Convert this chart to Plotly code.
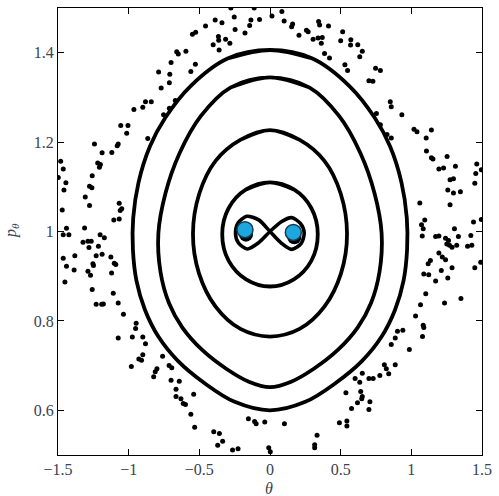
import plotly.graph_objects as go

# ---------------- data (theta, p_theta) ----------------
# closed invariant curves (each list wraps past its start so the spline closes smoothly)
orbit_1 = [(-0.30,1.387),(0.00,1.406),(0.30,1.387),(0.56,1.326),(0.74,1.255),(0.85,1.190),(0.93,1.110),
           (0.968,1.030),(0.970,0.960),(0.945,0.890),(0.885,0.825),(0.79,0.765),(0.65,0.710),(0.46,0.660),
           (0.25,0.619),(0.00,0.600),(-0.25,0.619),(-0.46,0.660),(-0.65,0.710),(-0.79,0.765),(-0.885,0.825),
           (-0.945,0.890),(-0.970,0.960),(-0.968,1.030),(-0.93,1.110),(-0.85,1.190),(-0.74,1.255),
           (-0.56,1.326),(-0.30,1.387),(0.00,1.406),(0.30,1.387)]
orbit_2 = [(-0.28,1.322),(0.00,1.345),(0.28,1.322),(0.49,1.258),(0.64,1.175),(0.74,1.085),(0.79,0.995),
           (0.775,0.910),(0.715,0.840),(0.62,0.785),(0.48,0.735),(0.31,0.693),(0.15,0.664),(0.00,0.652),
           (-0.15,0.664),(-0.31,0.693),(-0.48,0.735),(-0.62,0.785),(-0.715,0.840),(-0.775,0.910),
           (-0.79,0.995),(-0.74,1.085),(-0.64,1.175),(-0.49,1.258),(-0.28,1.322),(0.00,1.345),(0.28,1.322)]
orbit_3 = [(-0.21,1.205),(0.00,1.227),(0.21,1.205),(0.385,1.158),(0.50,1.085),(0.545,0.995),(0.503,0.907),
           (0.385,0.832),(0.209,0.782),(0.00,0.765),(-0.209,0.782),(-0.385,0.832),(-0.503,0.907),
           (-0.545,0.995),(-0.50,1.085),(-0.385,1.158),(-0.21,1.205),(0.00,1.227),(0.21,1.205)]
orbit_4 = [(-0.169,1.094),(0.00,1.110),(0.169,1.094),(0.293,1.052),(0.338,0.994),(0.293,0.935),
           (0.169,0.893),(0.00,0.877),(-0.169,0.893),(-0.293,0.935),(-0.338,0.994),(-0.293,1.052),
           (-0.169,1.094),(0.00,1.110),(0.169,1.094)]
separatrix = [(0.00,1.000),(0.08,1.022),(0.153,1.031),(0.215,1.018),(0.242,0.997),(0.220,0.973),
              (0.153,0.960),(0.08,0.974),(0.00,1.000),(-0.08,1.026),(-0.165,1.034),(-0.224,1.020),
              (-0.244,0.998),(-0.224,0.975),(-0.16,0.961),(-0.08,0.975),(0.00,1.000)]

fixed_theta = [-0.177, 0.165]
fixed_p = [1.004, 0.998]
shadow_theta = [-0.170, 0.172]
shadow_p = [0.993, 0.987]

chaos_top_left = [(-0.277,1.500),(-0.112,1.500),(-0.253,1.480),(-0.388,1.473),(-0.340,1.467),(-0.456,1.460),
    (-0.135,1.473),(-0.074,1.474),(-0.247,1.452),(-0.177,1.444),(-0.144,1.461),(-0.526,1.446),(-0.549,1.441),
    (-0.365,1.436),(-0.363,1.428),(-0.314,1.430),(-0.402,1.418),(-0.284,1.421),(-0.360,1.406),(-0.660,1.402),
    (-0.649,1.397),(-0.595,1.403),(-0.700,1.378),(-0.528,1.374),(-0.788,1.357),(-0.709,1.352),(-0.560,1.358),
    (-0.712,1.333),(-0.770,1.321),(-0.881,1.290),(-0.840,1.290),(-0.900,1.278),(-0.963,1.273),(-0.670,1.293),
    (-0.712,1.276),(-0.753,1.261),(-1.056,1.237),(-1.005,1.237),(-1.014,1.220),(-0.865,1.208)]
chaos_top_right = [(0.014,1.482),(0.084,1.492),(0.100,1.471),(0.160,1.464),(0.153,1.458),(0.205,1.439),
    (0.258,1.450),(0.270,1.447),(0.344,1.470),(0.351,1.462),(0.414,1.460),(0.305,1.430),(0.340,1.433),
    (0.370,1.434),(0.363,1.421),(0.386,1.398),(0.421,1.388),(0.514,1.447),(0.500,1.427),(0.572,1.429),
    (0.570,1.417),(0.621,1.418),(0.653,1.403),(0.635,1.391),(0.530,1.373),(0.549,1.360),(0.747,1.365),
    (0.781,1.360),(0.700,1.337),(0.728,1.336),(0.851,1.290),(0.858,1.279),(0.753,1.264),(0.933,1.261),
    (0.781,1.239),(0.828,1.217),(0.858,1.209),(1.019,1.229),(1.040,1.223),(1.142,1.227),(1.105,1.209)]
chaos_left = [(-1.242,1.196),(-1.074,1.196),(-1.081,1.192),(-1.188,1.176),(-1.119,1.177),(-1.481,1.157),
    (-1.463,1.140),(-1.498,1.121),(-1.444,1.109),(-1.458,1.093),(-1.219,1.153),(-1.207,1.144),(-1.200,1.150),
    (-1.258,1.125),(-1.277,1.101),(-1.260,1.098),(-1.307,1.077),(-1.277,1.058),(-1.067,1.063),(-1.049,1.051),
    (-1.060,1.047),(-1.105,1.026),(-1.067,1.028),(-1.470,1.048),(-1.440,1.007),(-1.463,0.993),(-1.423,0.993),
    (-1.312,1.008),(-1.202,0.993),(-1.172,0.986),(-1.323,0.976),(-1.288,0.978),(-1.265,0.978),(-1.281,0.964),
    (-1.214,0.967),(-1.463,0.940),(-1.440,0.922),(-1.451,0.887),(-1.381,0.946),(-1.386,0.914),(-1.230,0.946),
    (-1.188,0.949),(-1.253,0.928),(-1.249,0.924),(-1.126,0.943),(-1.102,0.929),(-1.091,0.926),(-1.288,0.911),
    (-1.270,0.902),(-1.121,0.907),(-1.258,0.870),(-1.109,0.862),(-1.230,0.837),(-1.191,0.837),(-1.179,0.838),
    (-1.074,0.840),(-1.037,0.815),(-0.947,0.795),(-0.951,0.783)]
chaos_right = [(1.107,1.180),(1.142,1.165),(1.153,1.162),(1.253,1.168),(1.195,1.140),(1.228,1.142),
    (1.312,1.146),(1.274,1.116),(1.298,1.118),(1.258,1.093),(1.298,1.086),(1.347,1.089),(1.274,1.060),
    (1.463,1.151),(1.456,1.130),(1.495,1.138),(1.449,1.108),(1.060,1.064),(1.095,1.026),(1.072,1.015),
    (1.084,1.006),(1.077,0.990),(1.440,1.021),(1.495,1.027),(1.305,1.006),(1.172,0.989),(1.195,0.990),
    (1.242,0.985),(1.263,0.980),(1.251,0.972),(1.270,0.969),(1.288,0.965),(1.321,0.969),(1.333,0.989),
    (1.421,0.991),(1.398,0.967),(1.428,0.969),(1.195,0.952),(1.219,0.943),(1.242,0.937),(1.135,0.935),
    (1.119,0.928),(1.288,0.919),(1.212,0.913),(1.088,0.905),(1.123,0.903),(1.258,0.896),(1.172,0.889),
    (1.449,0.919),(1.491,0.931),(1.102,0.861),(1.065,0.836),(1.235,0.840),(1.351,0.850),(1.030,0.811),
    (1.084,0.790),(1.088,0.785)]
chaos_bottom_left = [(-1.074,0.762),(-0.974,0.764),(-0.900,0.764),(-0.881,0.749),(-0.900,0.724),
    (-0.928,0.715),(-0.909,0.712),(-0.981,0.698),(-0.760,0.721),(-0.714,0.700),(-0.695,0.695),(-0.800,0.693),
    (-0.812,0.686),(-0.823,0.675),(-0.700,0.667),(-0.642,0.665),(-0.665,0.647),(-0.665,0.631),(-0.630,0.626),
    (-0.614,0.615),(-0.598,0.613),(-0.540,0.636),(-0.560,0.591),(-0.533,0.562),(-0.398,0.552),(-0.358,0.548),
    (-0.335,0.531),(-0.370,0.522),(-0.265,0.511),(-0.226,0.514),(-0.153,0.581),(-0.109,0.575),(-0.098,0.570),
    (-0.037,0.574),(-0.009,0.516),(0.002,0.507)]
chaos_bottom_right = [(0.102,0.570),(1.079,0.765),(0.940,0.779),(0.902,0.777),(0.886,0.762),(0.858,0.747),
    (0.986,0.736),(0.809,0.702),(0.886,0.702),(0.823,0.693),(0.840,0.682),(0.777,0.678),(0.730,0.671),
    (0.700,0.671),(0.653,0.683),(0.602,0.671),(0.635,0.663),(0.537,0.639),(0.642,0.642),(0.653,0.631),
    (0.649,0.626),(0.707,0.619),(0.619,0.617),(0.577,0.604),(0.700,0.602),(0.491,0.572),(0.544,0.576),
    (0.544,0.565),(0.333,0.544),(0.316,0.523),(0.316,0.516)]

x_ticks = [-1.5, -1, -0.5, 0, 0.5, 1, 1.5]
x_ticklabels = ["\u22121.5", "\u22121", "\u22120.5", "0", "0.5", "1", "1.5"]
y_ticks = [0.6, 0.8, 1.0, 1.2, 1.4]
y_ticklabels = ["0.6", "0.8", "1", "1.2", "1.4"]

FONT = "Liberation Serif, DejaVu Serif, serif"
TEXT_COLOR = "#3a4150"

fig = go.Figure()

for orbit in [orbit_1, orbit_2, orbit_3, orbit_4]:
    fig.add_trace(go.Scatter(
        x=[q[0] for q in orbit], y=[q[1] for q in orbit], mode="lines",
        line=dict(color="black", width=3.8, shape="spline", smoothing=1.0),
        hoverinfo="skip"))
fig.add_trace(go.Scatter(
    x=[q[0] for q in separatrix], y=[q[1] for q in separatrix], mode="lines",
    line=dict(color="black", width=3.6, shape="spline", smoothing=0.8),
    hoverinfo="skip"))

chaos = chaos_top_left + chaos_top_right + chaos_left + chaos_right + chaos_bottom_left + chaos_bottom_right
fig.add_trace(go.Scatter(
    x=[q[0] for q in chaos], y=[q[1] for q in chaos], mode="markers",
    marker=dict(color="black", size=5), hoverinfo="skip"))

fig.add_trace(go.Scatter(x=shadow_theta, y=shadow_p, mode="markers",
                         marker=dict(color="black", size=14), hoverinfo="skip"))
fig.add_trace(go.Scatter(x=fixed_theta, y=fixed_p, mode="markers",
                         marker=dict(color="#1ea7df", size=16, line=dict(color="#0f3d55", width=1.5)),
                         hoverinfo="skip"))

axis_common = dict(showline=True, linecolor="black", linewidth=1.2, mirror="ticks",
                   ticks="inside", ticklen=6, tickwidth=1, tickcolor="black",
                   showgrid=False, zeroline=False,
                   tickfont=dict(family=FONT, size=16, color=TEXT_COLOR))

fig.update_xaxes(range=[-1.5, 1.5], tickvals=x_ticks, ticktext=x_ticklabels, **axis_common)
fig.update_yaxes(range=[0.5, 1.5], tickvals=y_ticks, ticktext=y_ticklabels, **axis_common)

fig.add_annotation(text="<i>θ</i>", xref="paper", yref="paper", x=0.498, y=-0.076,
                   showarrow=False, font=dict(family=FONT, size=16, color=TEXT_COLOR),
                   xanchor="center", yanchor="middle")
fig.add_annotation(text="<i>p</i><sub><i>θ</i></sub>", xref="paper", yref="paper", x=-0.11, y=0.502,
                   showarrow=False, textangle=-90, font=dict(family=FONT, size=16, color=TEXT_COLOR),
                   xanchor="center", yanchor="middle")

fig.update_layout(width=499, height=496, margin=dict(l=58, r=11, t=7, b=41),
                  plot_bgcolor="white", paper_bgcolor="white", showlegend=False)

fig.write_html("out.html")
